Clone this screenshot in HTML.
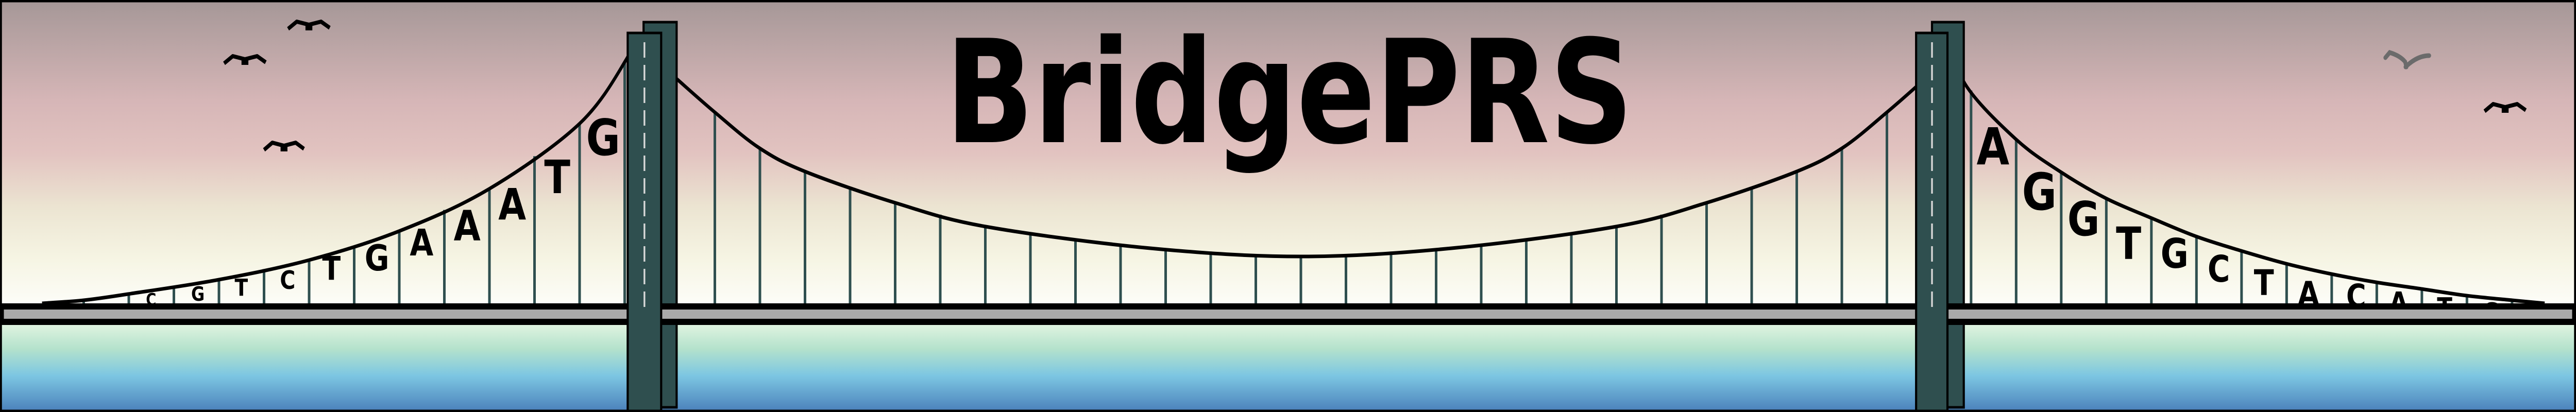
<!DOCTYPE html>
<html><head><meta charset="utf-8"><title>BridgePRS</title>
<style>html,body{margin:0;padding:0;background:#fff;overflow:hidden;width:100%;height:100%}svg{display:block;position:fixed;left:0;top:0;width:100vw;height:100vh}text{font-family:"DejaVu Sans","Liberation Sans",sans-serif;font-weight:bold}</style>
</head><body>
<svg id="art" viewBox="0 0 6000 800" preserveAspectRatio="none" xmlns="http://www.w3.org/2000/svg">
<defs>
<linearGradient id="sky" gradientUnits="userSpaceOnUse" x1="0" y1="0" x2="0" y2="595">
<stop offset="0" stop-color="#a59797"/><stop offset="0.33" stop-color="#d6b6b7"/><stop offset="0.5" stop-color="#e2c3c0"/><stop offset="0.68" stop-color="#ece5d2"/><stop offset="0.85" stop-color="#f6f5e4"/><stop offset="1" stop-color="#fdfdf9"/>
</linearGradient>
<linearGradient id="water" gradientUnits="userSpaceOnUse" x1="0" y1="625" x2="0" y2="800">
<stop offset="0" stop-color="#e4f5e2"/><stop offset="0.3" stop-color="#b4e2cc"/><stop offset="0.6" stop-color="#7cc6e2"/><stop offset="1" stop-color="#4a7fba"/>
</linearGradient>
</defs>
<rect x="0" y="0" width="6000" height="600" fill="url(#sky)"/>
<rect x="0" y="600" width="6000" height="200" fill="url(#water)"/>
<text x="2202" y="276" font-size="278" textLength="1602" lengthAdjust="spacingAndGlyphs" fill="#000">BridgePRS</text>
<g id="birds"></g>
<g id="letters"></g>
<g id="hangers"></g>
<g id="cables"></g>
<rect x="1499" y="43" width="77" height="748" fill="#2f4f4f" stroke="#000" stroke-width="5"/>
<rect x="4500" y="43" width="74" height="748" fill="#2f4f4f" stroke="#000" stroke-width="5"/>
<rect x="3" y="595" width="5994" height="30" fill="#aaaaaa" stroke="#000" stroke-width="12"/>
<rect x="1462" y="64" width="78" height="745" fill="#2f4f4f" stroke="#000" stroke-width="5"/>
<line x1="1501" y1="82" x2="1501" y2="600" stroke="#d8d8d8" stroke-width="4" stroke-dasharray="30 14"/>
<rect x="4463" y="64" width="73" height="745" fill="#2f4f4f" stroke="#000" stroke-width="5"/>
<line x1="4500" y1="82" x2="4500" y2="600" stroke="#d8d8d8" stroke-width="4" stroke-dasharray="30 14"/>
<rect x="2" y="2" width="5996" height="796" fill="none" stroke="#000" stroke-width="5"/>
</svg>
<script>
var NS = "http://www.w3.org/2000/svg";
var leftLetters = ["C","G","T","C","T","G","A","A","A","T","G"];
var leftCenters = [352,461,562,670,772,878,982,1088,1193,1298,1405];
var leftHeights = [24,28,33,36,46,51,52,59,61,65,71];
var leftBaselines = [593,584,574,561,543,525,496,467,426,375,301];
var rightLetters = ["A","G","G","T","G","C","T","A","C","A","T","G"];
var rightCenters = [4642,4750,4853,4958,5065,5168,5273,5377,5488,5587,5694,5802];
var rightHeights = [72,72,67,63,58,52,50,48,46,42,38,34];
var rightBaselines = [319,407,457,503,520,547,573,594,597,608,615,621];
var leftCable = [[98,589],[195,583],[298,571],[510,543],[720,505],[929,449],[1139,367],[1350,240],[1459,115],[1475,70]];
var mainHalf = [[1576,153],[1665,218],[1768,287],[1875,333],[2086,394],[2296,440],[2679,482],[3030,498]];
var rightCable = [[4540,60],[4577,163],[4695,270],[4800,334],[4905,385],[5010,423],[5115,459],[5220,487],[5325,512],[5430,532],[5534,548],[5640,561],[5745,574],[5851,583],[5927,589]];
var mainCable = mainHalf.slice();
for (var i = mainHalf.length - 2; i >= 0; i--) mainCable.push([6060 - mainHalf[i][0], mainHalf[i][1]]);

function smooth(p){
  var d = "M" + p[0][0] + "," + p[0][1];
  for (var i = 0; i < p.length - 1; i++){
    var p0 = p[Math.max(0,i-1)], p1 = p[i], p2 = p[i+1], p3 = p[Math.min(p.length-1,i+2)];
    d += " C" + (p1[0]+(p2[0]-p0[0])/6) + "," + (p1[1]+(p2[1]-p0[1])/6) + " " + (p2[0]-(p3[0]-p1[0])/6) + "," + (p2[1]-(p3[1]-p1[1])/6) + " " + p2[0] + "," + p2[1];
  }
  return d;
}
function yAt(p, x){
  for (var i = 0; i < p.length - 1; i++){
    if (x >= p[i][0] && x <= p[i+1][0]){
      var t = (x - p[i][0]) / (p[i+1][0] - p[i][0]);
      return p[i][1] + t * (p[i+1][1] - p[i][1]);
    }
  }
  return 589;
}
var lg = document.getElementById("letters");
function addLetters(chars, cx, hs, bs){
  for (var i = 0; i < chars.length; i++){
    var t = document.createElementNS(NS, "text");
    t.setAttribute("x", cx[i]);
    t.setAttribute("y", bs[i]);
    t.setAttribute("font-size", (hs[i] / 0.73).toFixed(1));
    t.setAttribute("text-anchor", "middle");
    t.setAttribute("fill", "#000");
    t.textContent = chars[i];
    
    
    lg.appendChild(t);
  }
}
addLetters(leftLetters, leftCenters, leftHeights, leftBaselines);
addLetters(rightLetters, rightCenters, rightHeights, rightBaselines);

var hg = document.getElementById("hangers");
function addHanger(x, cable){
  var l = document.createElementNS(NS, "line");
  l.setAttribute("x1", x); l.setAttribute("x2", x);
  l.setAttribute("y1", yAt(cable, x)); l.setAttribute("y2", 592);
  l.setAttribute("stroke", "#2f4f4f"); l.setAttribute("stroke-width", "6");
  
  
  hg.appendChild(l);
}
for (var i = 0; i < 13; i++) addHanger(195 + 105 * i, leftCable);
for (var i = 0; i < 27; i++) addHanger(1665 + 105 * i, mainCable);
for (var i = 0; i < 13; i++) addHanger(4591 + 105 * i, rightCable);

var cg = document.getElementById("cables");
[leftCable, mainCable, rightCable].forEach(function(c){
  var p = document.createElementNS(NS, "path");
  p.setAttribute("d", smooth(c));
  p.setAttribute("fill", "none"); p.setAttribute("stroke", "#000"); p.setAttribute("stroke-width", "7");
  
  
  cg.appendChild(p);
});

var bg = document.getElementById("birds");
var birdX = [669,520,613,5785];
var birdY = [38,105,273,198];
var birdW = [101,101,97,100];
for (var i = 0; i < birdX.length; i++){
  var x = birdX[i], y = birdY[i], w = birdW[i];
  var b = document.createElementNS(NS, "path");
  b.setAttribute("d", "M" + (x+2) + "," + (y+18) + " L" + (x+w*0.22) + "," + (y+4) + " L" + (x+w*0.5) + "," + (y+10) + " L" + (x+w*0.78) + "," + (y+4) + " L" + (x+w-2) + "," + (y+16));
  b.setAttribute("fill", "none"); b.setAttribute("stroke", "#000"); b.setAttribute("stroke-width", "8"); b.setAttribute("stroke-linejoin", "round");
  
  
  bg.appendChild(b);
  var r = document.createElementNS(NS, "rect");
  r.setAttribute("x", x + w*0.5 - 8); r.setAttribute("y", y + 6); r.setAttribute("width", 16); r.setAttribute("height", 15); r.setAttribute("fill", "#000");
  
  
  bg.appendChild(r);
}
var gb = document.createElementNS(NS, "path");
gb.setAttribute("d", "M5556,112 L5566,102 Q5590,108 5602,120 L5605,130 M5603,130 Q5630,108 5658,108");
gb.setAttribute("fill", "none"); gb.setAttribute("stroke", "#6b6b6b"); gb.setAttribute("stroke-width", "9"); gb.setAttribute("stroke-linecap", "round");


bg.appendChild(gb);
</script>
</body></html>
